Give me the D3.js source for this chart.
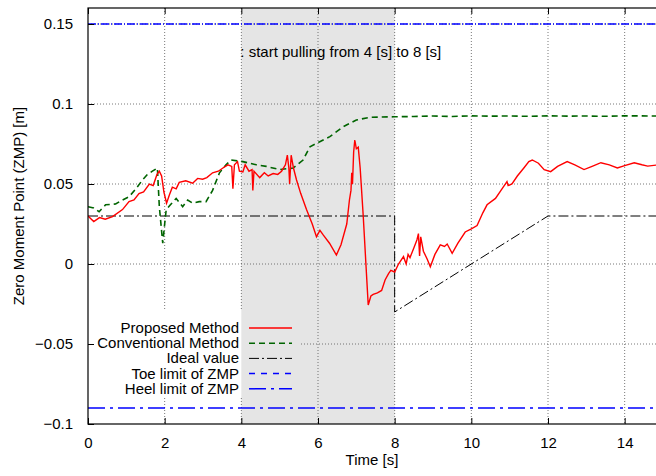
<!DOCTYPE html>
<html>
<head>
<meta charset="utf-8">
<script src="https://cdn.jsdelivr.net/npm/d3@7"></script>
<style>
    body { margin: 0; background: #fff; }
    svg { display: block; font-family: "Liberation Sans", Arial, sans-serif; }
    .grid line { stroke: #555; stroke-width: 0.8; stroke-dasharray: 1,2; }
</style>
</head>
<body>
<svg id="chart"></svg>
<script>
const width = 656;
const height = 476;

// Proposed method (red)
const proposedT = [0.0, 0.15, 0.3, 0.45, 0.64, 0.9, 1.07, 1.2, 1.33, 1.45, 1.6, 1.7, 1.8, 1.86, 1.92, 1.98,
    2.05, 2.12, 2.2, 2.3, 2.38, 2.55, 2.73, 2.86, 2.99, 3.1, 3.25, 3.4, 3.52, 3.65, 3.75, 3.78, 3.82,
    3.9, 3.95, 4.04, 4.1, 4.2, 4.28, 4.3, 4.33, 4.48, 4.6, 4.7, 4.83, 4.95, 5.05, 5.15, 5.2, 5.24,
    5.26, 5.3, 5.36, 5.44, 5.55, 5.7, 5.85, 5.96, 6.05, 6.14, 6.3, 6.48, 6.6, 6.75, 6.82, 6.86, 6.88,
    6.9, 6.93, 6.96, 7.0, 7.05, 7.1, 7.18, 7.25, 7.31, 7.38, 7.44, 7.55, 7.66, 7.75, 7.84, 7.9, 8.0,
    8.1, 8.23, 8.3, 8.35, 8.4, 8.5, 8.58, 8.62, 8.65, 8.68, 8.75, 8.85, 8.93, 9.05, 9.19, 9.3, 9.37,
    9.5, 9.65, 9.84, 10.0, 10.15, 10.3, 10.41, 10.63, 10.8, 10.93, 10.96, 11.06, 11.2, 11.37, 11.5,
    11.59, 11.75, 11.9, 12.07, 12.25, 12.5, 12.7, 12.94, 13.15, 13.38, 13.6, 13.81, 14.0, 14.25,
    14.45, 14.6, 14.9];
const proposedV = [0.030, 0.0265, 0.029, 0.028, 0.0296, 0.034, 0.039, 0.040, 0.044, 0.045, 0.050, 0.049,
    0.056, 0.058, 0.055, 0.045, 0.038, 0.043, 0.048, 0.047, 0.051, 0.052, 0.0505, 0.0535, 0.053, 0.054,
    0.057, 0.058, 0.060, 0.062, 0.061, 0.047, 0.062, 0.064, 0.058, 0.0575, 0.062, 0.058, 0.059, 0.046,
    0.058, 0.054, 0.057, 0.055, 0.0565, 0.056, 0.058, 0.062, 0.068, 0.060, 0.050, 0.068, 0.060, 0.0525,
    0.044, 0.034, 0.025, 0.017, 0.021, 0.018, 0.013, 0.0056, 0.012, 0.025, 0.040, 0.046, 0.057, 0.050,
    0.070, 0.0775, 0.072, 0.073, 0.060, 0.030, 0.000, -0.0256, -0.020, -0.019, -0.018, -0.0165, -0.010,
    -0.006, -0.004, -0.005, 0.000, 0.0046, 0.000, 0.006, 0.004, 0.010, 0.015, 0.019, 0.005, 0.017,
    0.008, 0.003, -0.0017, 0.006, 0.012, 0.011, 0.0125, 0.0067, 0.013, 0.020, 0.022, 0.024, 0.032,
    0.037, 0.041, 0.047, 0.0515, 0.049, 0.050, 0.055, 0.060, 0.064, 0.065, 0.063, 0.059, 0.0577,
    0.061, 0.064, 0.062, 0.059, 0.061, 0.0633, 0.062, 0.060, 0.0615, 0.0633, 0.062, 0.0612, 0.062];

// Conventional method (green)
const conventionalT = [0.0, 0.15, 0.29, 0.46, 0.72, 0.9, 1.07, 1.25, 1.42, 1.55, 1.68, 1.81, 1.86, 1.95,
    2.0, 2.04, 2.15, 2.3, 2.47, 2.6, 2.73, 2.9, 3.08, 3.25, 3.43, 3.6, 3.73, 4.04, 4.39, 4.65, 5.0, 5.35,
    5.61, 5.79, 5.96, 6.31, 6.66, 7.0, 7.36, 7.97, 8.5, 9.0, 9.5, 10.0, 10.5, 11.0, 11.5, 12.0, 12.5,
    13.0, 13.5, 14.0, 14.9];
const conventionalV = [0.0358, 0.035, 0.0327, 0.037, 0.0375, 0.040, 0.042, 0.047, 0.0525, 0.056, 0.058,
    0.060, 0.036, 0.013, 0.025, 0.034, 0.037, 0.041, 0.0358, 0.040, 0.038, 0.039, 0.039, 0.046, 0.057,
    0.062, 0.065, 0.064, 0.062, 0.061, 0.059, 0.060, 0.065, 0.0733, 0.0754, 0.0796, 0.0858, 0.090,
    0.0917, 0.092, 0.0922, 0.0925, 0.0922, 0.0926, 0.0924, 0.0925, 0.0923, 0.0926, 0.0924, 0.0925,
    0.0923, 0.0926, 0.0925];

// Ideal value
const idealT = [0, 8, 8, 12, 15];
const idealV = [0.03, 0.03, -0.03, 0.03, 0.03];

const toeLimit = 0.15;
const heelLimit = -0.09;
const pullStart = 4;
const pullEnd = 8;

const xTicks = [0, 2, 4, 6, 8, 10, 12, 14];
const yTicks = [-0.1, -0.05, 0, 0.05, 0.1, 0.15];

const legendNames = ['Proposed Method', 'Conventional Method', 'Ideal value', 'Toe limit of ZMP', 'Heel limit of ZMP'];

const x = d3.scaleLinear().domain([0, 15]).range([88, 663]);
const y = d3.scaleLinear().domain([-0.1, 0.16]).range([424, 8]);

const svg = d3.select('#chart')
    .attr('width', width)
    .attr('height', height);

// mask that keeps the grid out of the key box
const defs = svg.append('defs');
const mask = defs.append('mask').attr('id', 'keyhole');
mask.append('rect').attr('width', width).attr('height', height).attr('fill', '#fff');
mask.append('rect').attr('x', 88).attr('y', 310).attr('width', 212).attr('height', 86).attr('fill', '#000');
defs.append('clipPath').attr('id', 'plot')
    .append('rect').attr('x', x(0)).attr('y', y(0.16)).attr('width', x(15) - x(0)).attr('height', y(-0.1) - y(0.16));

svg.append('rect')
    .attr('x', x(pullStart))
    .attr('y', y(0.16))
    .attr('width', x(pullEnd) - x(pullStart))
    .attr('height', y(-0.1) - y(0.16))
    .attr('fill', '#e5e5e5');

const grid = svg.append('g').attr('class', 'grid').attr('mask', 'url(#keyhole)');
grid.selectAll('.gx')
    .data(xTicks.filter(d => d > 0))
    .enter().append('line')
    .attr('x1', d => x(d)).attr('x2', d => x(d))
    .attr('y1', y(0.16)).attr('y2', y(-0.1));
grid.selectAll('.gy')
    .data(yTicks.filter(d => d > -0.1))
    .enter().append('line')
    .attr('x1', x(0)).attr('x2', x(15))
    .attr('y1', d => y(d)).attr('y2', d => y(d));

const plot = svg.append('g').attr('clip-path', 'url(#plot)');
const line = d3.line().x(d => x(d[0])).y(d => y(d[1]));

plot.append('path')
    .datum(idealT.map((t, i) => [t, idealV[i]]))
    .attr('d', line)
    .attr('fill', 'none')
    .attr('stroke', '#000')
    .attr('stroke-width', 1)
    .attr('stroke-dasharray', '10,3,2,3');

plot.append('path')
    .datum(conventionalT.map((t, i) => [t, conventionalV[i]]))
    .attr('d', line)
    .attr('fill', 'none')
    .attr('stroke', '#006400')
    .attr('stroke-width', 1.6)
    .attr('stroke-dasharray', '6,4');

plot.append('path')
    .datum(proposedT.map((t, i) => [t, proposedV[i]]))
    .attr('d', line)
    .attr('fill', 'none')
    .attr('stroke', '#ff0000')
    .attr('stroke-width', 1.4);

plot.append('line')
    .attr('x1', x(0)).attr('x2', x(15))
    .attr('y1', y(toeLimit)).attr('y2', y(toeLimit))
    .attr('stroke', '#0000ff').attr('stroke-width', 1.5)
    .attr('stroke-dasharray', '8,2,1,2');
plot.append('line')
    .attr('x1', x(0)).attr('x2', x(15))
    .attr('y1', y(heelLimit)).attr('y2', y(heelLimit))
    .attr('stroke', '#0000ff').attr('stroke-width', 1.5)
    .attr('stroke-dasharray', '17,5,3,5');

// frame
svg.append('rect')
    .attr('x', x(0)).attr('y', y(0.16))
    .attr('width', x(15) - x(0)).attr('height', y(-0.1) - y(0.16))
    .attr('fill', 'none').attr('stroke', '#000').attr('stroke-width', 1.2);

// axes with inward ticks
const fmtY = d => d === 0 ? '0' : d3.format('')(d).replace('-', '\u2212');
svg.append('g')
    .attr('transform', `translate(0,${y(-0.1)})`)
    .call(d3.axisBottom(x).tickValues(xTicks).tickSizeInner(-6).tickSizeOuter(0).tickPadding(13))
    .call(g => g.select('.domain').remove())
    .call(g => g.selectAll('text').attr('font-size', 15).attr('font-family', null).attr('fill', '#000'));
svg.append('g')
    .attr('transform', `translate(0,${y(0.16)})`)
    .call(d3.axisTop(x).tickValues(xTicks).tickSizeInner(-6).tickSizeOuter(0).tickFormat(''))
    .call(g => g.select('.domain').remove());
svg.append('g')
    .attr('transform', `translate(${x(0)},0)`)
    .call(d3.axisLeft(y).tickValues(yTicks).tickSizeInner(-6).tickSizeOuter(0).tickPadding(15).tickFormat(fmtY))
    .call(g => g.select('.domain').remove())
    .call(g => g.selectAll('text').attr('font-size', 15).attr('font-family', null).attr('fill', '#000'));

svg.append('text')
    .attr('x', 372).attr('y', 465)
    .attr('text-anchor', 'middle')
    .attr('font-size', 15)
    .text('Time [s]');
svg.append('text')
    .attr('transform', 'translate(24,206) rotate(-90)')
    .attr('text-anchor', 'middle')
    .attr('font-size', 15)
    .text('Zero Moment Point (ZMP) [m]');

svg.append('text')
    .attr('x', x(pullStart) - 1).attr('y', 57)
    .attr('font-size', 15)
    .text(': start pulling from 4 [s] to 8 [s]');

// key
const keyStyles = [
    { stroke: '#ff0000', dash: null, w: 1.4 },
    { stroke: '#006400', dash: '6,4', w: 1.4 },
    { stroke: '#000', dash: '10,3,2,3', w: 1 },
    { stroke: '#0000ff', dash: '6,6', w: 1.5 },
    { stroke: '#0000ff', dash: '17,5,3,5', w: 1.5 }
];
const key = svg.append('g').selectAll('g')
    .data(legendNames)
    .enter().append('g')
    .attr('transform', (_, i) => `translate(0,${328 + i * 15.2})`);
key.append('text')
    .attr('x', 239).attr('y', 5)
    .attr('text-anchor', 'end')
    .attr('font-size', 15)
    .text(d => d);
key.append('line')
    .attr('x1', 249).attr('x2', 292)
    .attr('stroke', (_, i) => keyStyles[i].stroke)
    .attr('stroke-width', (_, i) => keyStyles[i].w)
    .attr('stroke-dasharray', (_, i) => keyStyles[i].dash);
</script>
</body>
</html>
